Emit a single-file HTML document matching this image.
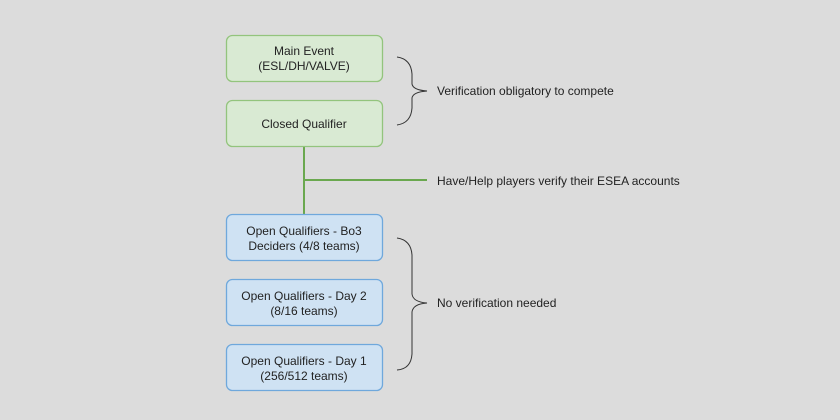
<!DOCTYPE html>
<html><head><style>
body{margin:0;background:#dcdcdc;}
svg{display:block}
text{font-family:"Liberation Sans",Arial,sans-serif;font-size:12px;fill:#222}
</style></head><body>
<svg width="840" height="420" viewBox="0 0 840 420">
<rect width="840" height="420" fill="#dcdcdc"/>
<line x1="304" y1="146" x2="304" y2="215" stroke="#6aa84f" stroke-width="2"/>
<line x1="304" y1="180" x2="427" y2="180" stroke="#6aa84f" stroke-width="2"/>
<g stroke-width="1.3">
<rect x="226.5" y="35.5" width="156" height="46" rx="6" fill="#d9ead3" stroke="#93c47d"/>
<rect x="226.5" y="100.5" width="156" height="46" rx="6" fill="#d9ead3" stroke="#93c47d"/>
<rect x="226.5" y="214.5" width="156" height="46" rx="6" fill="#cfe2f3" stroke="#6fa8dc"/>
<rect x="226.5" y="279.5" width="156" height="46" rx="6" fill="#cfe2f3" stroke="#6fa8dc"/>
<rect x="226.5" y="344.5" width="156" height="46" rx="6" fill="#cfe2f3" stroke="#6fa8dc"/>
</g>
<g text-anchor="middle">
<text x="304" y="55">Main Event</text>
<text x="304" y="70">(ESL/DH/VALVE)</text>
<text x="304" y="128">Closed Qualifier</text>
<text x="304" y="235">Open Qualifiers - Bo3</text>
<text x="304" y="250">Deciders (4/8 teams)</text>
<text x="304" y="300">Open Qualifiers - Day 2</text>
<text x="304" y="315">(8/16 teams)</text>
<text x="304" y="365">Open Qualifiers - Day 1</text>
<text x="304" y="380">(256/512 teams)</text>
</g>
<g fill="none" stroke="#333" stroke-width="1">
<path d="M397 57 Q411 59 412 74 L412 84 Q413 90 427 91 Q413 92 412 98 L412 108 Q411 123 397 125"/>
<path d="M397 238 Q411 240 412 255 L412 294 Q413 302 427 303 Q413 304 412 312 L412 354 Q411 369 397 370"/>
</g>
<text x="437" y="95">Verification obligatory to compete</text>
<text x="437" y="185">Have/Help players verify their ESEA accounts</text>
<text x="437" y="307">No verification needed</text>
</svg>
</body></html>
